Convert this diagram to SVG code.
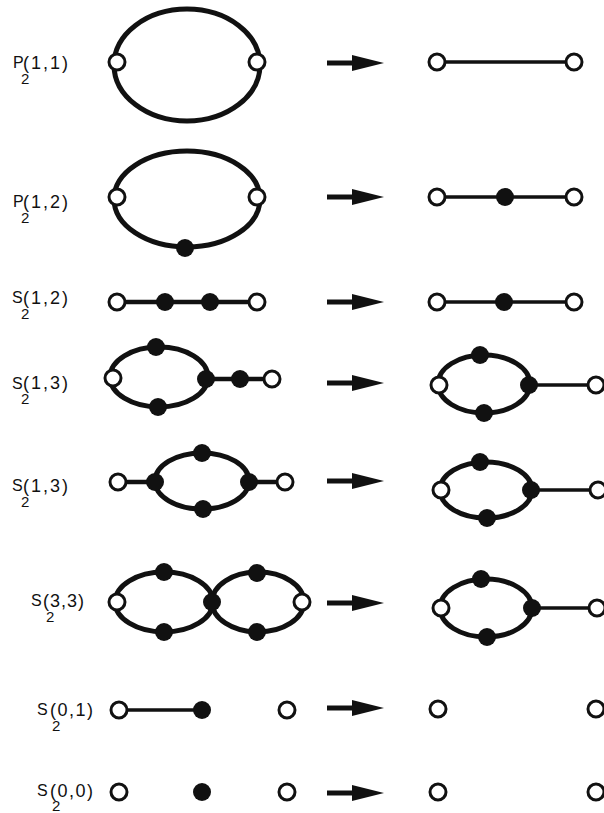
<svg xmlns="http://www.w3.org/2000/svg" width="604" height="813" viewBox="0 0 604 813">
<style>
.bg{fill:#fff}
.loop{fill:none;stroke:#111;stroke-width:5}
.e{stroke:#111;stroke-width:4.5;fill:none}
.et{stroke:#111;stroke-width:3.5;fill:none}
.o{fill:#fff;stroke:#111;stroke-width:3}
.f{fill:#111}
.lab{font-family:"Liberation Sans",Arial,sans-serif;font-size:16px;fill:#111}
.sub{font-size:15px}
.par{font-size:18px}
.sh{stroke:#111;stroke-width:5}
.hd{fill:#111}
</style>
<defs>
<g id="arrow"><line class="sh" x1="327" y1="0" x2="356" y2="0"/><polygon class="hd" points="352,-8 384,0 352,8"/></g>
</defs>
<rect class="bg" width="604" height="813"/>

<g id="labels">
<text id="label1" class="lab"><tspan x="13" y="68">P</tspan><tspan class="sub" x="21" y="84">2</tspan><tspan class="par" x="23" y="69" textLength="45" lengthAdjust="spacing">(1,1)</tspan></text>
<text id="label2" class="lab"><tspan x="13" y="207">P</tspan><tspan class="sub" x="21" y="223">2</tspan><tspan class="par" x="23" y="208" textLength="45" lengthAdjust="spacing">(1,2)</tspan></text>
<text id="label3" class="lab"><tspan x="12" y="303">S</tspan><tspan class="sub" x="21" y="319">2</tspan><tspan class="par" x="23" y="304" textLength="45" lengthAdjust="spacing">(1,2)</tspan></text>
<text id="label4" class="lab"><tspan x="12" y="389">S</tspan><tspan class="sub" x="21" y="404">2</tspan><tspan class="par" x="23" y="389" textLength="45" lengthAdjust="spacing">(1,3)</tspan></text>
<text id="label5" class="lab"><tspan x="12" y="491">S</tspan><tspan class="sub" x="21" y="507">2</tspan><tspan class="par" x="23" y="492" textLength="45" lengthAdjust="spacing">(1,3)</tspan></text>
<text id="label6" class="lab"><tspan x="31" y="606">S</tspan><tspan class="sub" x="46" y="622">2</tspan><tspan class="par" x="43" y="607" textLength="41" lengthAdjust="spacing">(3,3)</tspan></text>
<text id="label7" class="lab"><tspan x="37" y="715">S</tspan><tspan class="sub" x="52" y="731">2</tspan><tspan class="par" x="50" y="716" textLength="43" lengthAdjust="spacing">(0,1)</tspan></text>
<text id="label8" class="lab"><tspan x="37" y="796">S</tspan><tspan class="sub" x="52" y="811">2</tspan><tspan class="par" x="50" y="797" textLength="43" lengthAdjust="spacing">(0,0)</tspan></text>
</g>

<g id="connectors">
<use href="#arrow" y="63"/>
<use href="#arrow" y="197"/>
<use href="#arrow" y="302"/>
<use href="#arrow" y="383"/>
<use href="#arrow" y="481"/>
<use href="#arrow" y="603"/>
<use href="#arrow" y="708"/>
<use href="#arrow" y="793"/>
<!-- left graphs edges -->
<ellipse class="loop" cx="187" cy="65" rx="73" ry="56"/>
<ellipse class="loop" cx="187" cy="199" rx="73" ry="48"/>
<line class="e" x1="117" y1="302" x2="257" y2="302"/>
<ellipse class="loop" cx="159" cy="377" rx="49" ry="30"/>
<line class="e" x1="207" y1="379" x2="272" y2="379"/>
<line class="e" x1="118" y1="482" x2="155" y2="482"/>
<ellipse class="loop" cx="202" cy="481" rx="47" ry="28"/>
<line class="e" x1="249" y1="482" x2="285" y2="482"/>
<ellipse class="loop" cx="164" cy="602" rx="49" ry="30"/>
<ellipse class="loop" cx="258" cy="602" rx="46" ry="30"/>
<line class="et" x1="119" y1="710" x2="202" y2="710"/>
<!-- right graphs edges -->
<line class="et" x1="437" y1="62" x2="574" y2="62"/>
<line class="et" x1="437" y1="197" x2="574" y2="197"/>
<line class="et" x1="437" y1="302" x2="574" y2="302"/>
<ellipse class="loop" cx="484" cy="384" rx="46" ry="29"/>
<line class="et" x1="529" y1="385" x2="596" y2="385"/>
<ellipse class="loop" cx="486" cy="490" rx="46" ry="28"/>
<line class="et" x1="531" y1="490" x2="598" y2="490"/>
<ellipse class="loop" cx="486" cy="608" rx="46" ry="29"/>
<line class="et" x1="532" y1="608" x2="597" y2="608"/>
</g>

<g id="nodes">
<g id="r1"><circle class="o" cx="117" cy="62" r="8"/><circle class="o" cx="257" cy="62" r="8"/><circle class="o" cx="437" cy="62" r="8"/><circle class="o" cx="574" cy="62" r="8"/></g>
<g id="r2"><circle class="o" cx="117" cy="197" r="8"/><circle class="o" cx="257" cy="197" r="8"/><circle class="f" cx="185" cy="248" r="9"/><circle class="o" cx="437" cy="197" r="8"/><circle class="f" cx="505" cy="197" r="9"/><circle class="o" cx="574" cy="197" r="8"/></g>
<g id="r3"><circle class="o" cx="117" cy="302" r="8"/><circle class="f" cx="165" cy="302" r="9"/><circle class="f" cx="210" cy="302" r="9"/><circle class="o" cx="257" cy="302" r="8"/><circle class="o" cx="437" cy="302" r="8"/><circle class="f" cx="504" cy="302" r="9"/><circle class="o" cx="574" cy="302" r="8"/></g>
<g id="r4"><circle class="o" cx="113" cy="378" r="8"/><circle class="f" cx="156" cy="347" r="9"/><circle class="f" cx="158" cy="407" r="9"/><circle class="f" cx="206" cy="379" r="9"/><circle class="f" cx="240" cy="379" r="9"/><circle class="o" cx="272" cy="379" r="8"/>
<circle class="o" cx="439" cy="385" r="8"/><circle class="f" cx="480" cy="355" r="9"/><circle class="f" cx="484" cy="413" r="9"/><circle class="f" cx="529" cy="385" r="9"/><circle class="o" cx="596" cy="385" r="8"/></g>
<g id="r5"><circle class="o" cx="118" cy="482" r="8"/><circle class="f" cx="155" cy="482" r="9"/><circle class="f" cx="202" cy="453" r="9"/><circle class="f" cx="203" cy="509" r="9"/><circle class="f" cx="249" cy="482" r="9"/><circle class="o" cx="285" cy="482" r="8"/>
<circle class="o" cx="441" cy="490" r="8"/><circle class="f" cx="480" cy="462" r="9"/><circle class="f" cx="487" cy="518" r="9"/><circle class="f" cx="531" cy="490" r="9"/><circle class="o" cx="598" cy="490" r="8"/></g>
<g id="r6"><circle class="o" cx="117" cy="602" r="8"/><circle class="f" cx="164" cy="572" r="9"/><circle class="f" cx="164" cy="632" r="9"/><circle class="f" cx="212" cy="602" r="9"/><circle class="f" cx="257" cy="573" r="9"/><circle class="f" cx="257" cy="632" r="9"/><circle class="o" cx="302" cy="602" r="8"/>
<circle class="o" cx="441" cy="608" r="8"/><circle class="f" cx="481" cy="579" r="9"/><circle class="f" cx="487" cy="637" r="9"/><circle class="f" cx="532" cy="608" r="9"/><circle class="o" cx="597" cy="608" r="8"/></g>
<g id="r7"><circle class="o" cx="119" cy="710" r="8"/><circle class="f" cx="202" cy="710" r="9"/><circle class="o" cx="287" cy="710" r="8"/><circle class="o" cx="438" cy="709" r="8"/><circle class="o" cx="596" cy="709" r="8"/></g>
<g id="r8"><circle class="o" cx="119" cy="792" r="8"/><circle class="f" cx="202" cy="792" r="9"/><circle class="o" cx="287" cy="792" r="8"/><circle class="o" cx="438" cy="792" r="8"/><circle class="o" cx="596" cy="792" r="8"/></g>
</g>
</svg>
